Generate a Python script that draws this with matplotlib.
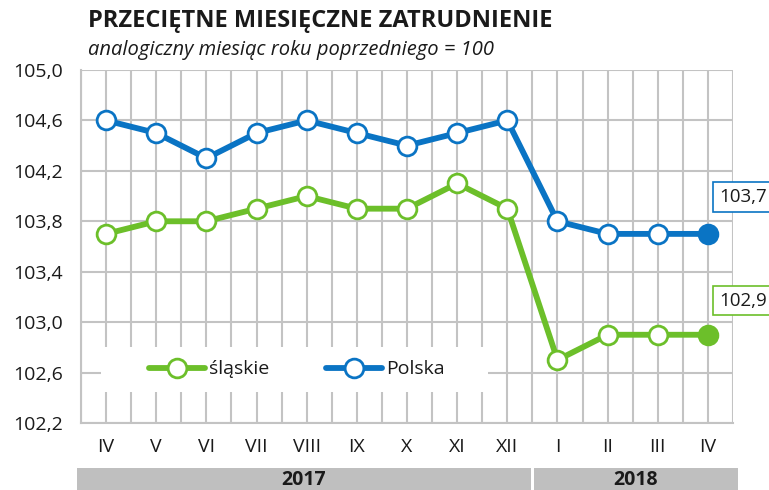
import matplotlib
matplotlib.use("Agg")
import matplotlib.pyplot as plt
from matplotlib.patches import Rectangle
import matplotlib.transforms as mtransforms

months = ["IV", "V", "VI", "VII", "VIII", "IX", "X", "XI", "XII", "I", "II", "III", "IV"]
polska = [104.6, 104.5, 104.3, 104.5, 104.6, 104.5, 104.4, 104.5, 104.6, 103.8, 103.7, 103.7, 103.7]
slaskie = [103.7, 103.8, 103.8, 103.9, 104.0, 103.9, 103.9, 104.1, 103.9, 102.7, 102.9, 102.9, 102.9]
years = ["2017", "2018"]
year_counts = [9, 4]
yticks = [102.2, 102.6, 103.0, 103.4, 103.8, 104.2, 104.6, 105.0]

BLUE = "#0a74c4"
GREEN = "#6cbf2a"
GRID = "#c3c3c3"
TXT = "#1a1a1a"
FS = 14

plt.rcParams['font.family'] = ['Open Sans', 'DejaVu Sans']

W, H = 769, 490
fig = plt.figure(figsize=(W / 100, H / 100), dpi=100)
ax = fig.add_axes([81 / W, (H - 423) / H, (733 - 81) / W, (423 - 70) / H])

x = list(range(len(months)))
ax.set_xlim(-0.5, len(months) - 0.5)
ax.set_ylim(102.2, 105.0)

# grid
for v in [i * 0.5 - 0.5 for i in range(2 * len(months) + 1)]:
    ax.axvline(v, color=GRID, lw=1.5, zorder=1)
for t in yticks:
    ax.axhline(t, color=GRID, lw=1.5, zorder=1)
for s in ax.spines.values():
    s.set_visible(False)
for side in ['left', 'bottom']:
    ax.spines[side].set_visible(True)
    ax.spines[side].set_color(GRID)
    ax.spines[side].set_linewidth(1.5)

ax.set_yticks(yticks)
ax.set_yticklabels([f"{t:.1f}".replace(".", ",") for t in yticks], fontsize=FS, color=TXT)
ax.set_xticks(x)
ax.set_xticklabels(months, fontsize=FS, color=TXT)
ax.tick_params(axis='y', length=0, pad=13)
ax.tick_params(axis='x', length=0, pad=11)

# legend background box
bg = Rectangle(((101 - 81) / 652, (423 - 392) / 353), (488 - 101) / 652, (392 - 347) / 353,
               transform=ax.transAxes, facecolor="white", edgecolor="none", zorder=2)
ax.add_patch(bg)

kw = dict(lw=4.2, marker='o', markersize=13.5, markerfacecolor='white', markeredgewidth=2.0,
          solid_capstyle='round', zorder=4)
l1, = ax.plot(x, slaskie, color=GREEN, markeredgecolor=GREEN, label="śląskie", **kw)
l2, = ax.plot(x, polska, color=BLUE, markeredgecolor=BLUE, label="Polska", **kw)
ax.plot(x[-1], slaskie[-1], 'o', color=GREEN, markersize=13.5, zorder=5)
ax.plot(x[-1], polska[-1], 'o', color=BLUE, markersize=13.5, zorder=5)

leg = ax.legend(handles=[l1, l2], loc='center', bbox_to_anchor=((297 - 81) / 652, (423 - 369.5) / 353),
                ncol=2, frameon=False, fontsize=FS, handlelength=2.9, handletextpad=0.2,
                columnspacing=2.9, numpoints=1)
for t in leg.get_texts():
    t.set_color(TXT)
leg.set_zorder(6)

# value labels
for vals, col, dy in [(polska, BLUE, 37), (slaskie, GREEN, 34)]:
    ax.annotate(f"{vals[-1]:.1f}".replace(".", ","), xy=(x[-1], vals[-1]), xytext=(11, dy),
                textcoords='offset pixels', ha='left', va='center', fontsize=13.5, color=TXT,
                annotation_clip=False, zorder=7,
                bbox=dict(boxstyle='square,pad=0.3', facecolor='white', edgecolor=col, lw=1.2))

# year bars
trans = mtransforms.blended_transform_factory(ax.transData, fig.transFigure)
start = 0
for yr, n in zip(years, year_counts):
    x0 = start - 0.5 + (-0.08 if start == 0 else 0.03)
    x1 = start + n - 0.5 + (-0.03 if start + n < len(months) else 0.1)
    fig.patches.append(Rectangle((x0, 0), x1 - x0, (490 - 468) / H, transform=trans,
                                 facecolor="#bfbfbf", edgecolor="none"))
    fig.text((x0 + x1) / 2, (490 - 480) / H, yr, transform=trans, ha='center', va='center',
             fontsize=FS, fontweight='bold', color=TXT)
    start += n

fig.text(88 / W, 1 - 21 / H, "PRZECIĘTNE MIESIĘCZNE ZATRUDNIENIE", fontsize=17, fontweight='bold',
         color=TXT, ha='left', va='center')
fig.text(88 / W, 1 - 50 / H, "analogiczny miesiąc roku poprzedniego = 100", fontsize=14.5,
         style='italic', color=TXT, ha='left', va='center')

fig.savefig("out.png", dpi=100)
